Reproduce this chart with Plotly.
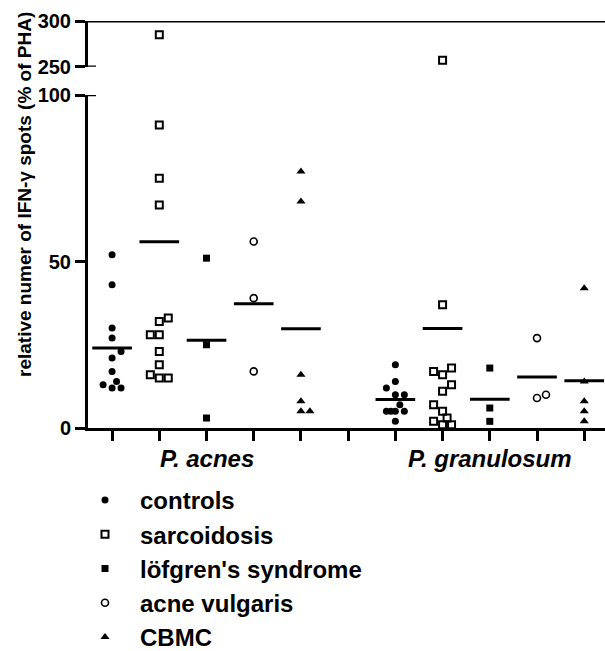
import numpy as np
import plotly.graph_objects as go

# ---------------- data ----------------
groups = ["controls", "sarcoidosis", "löfgren's syndrome", "acne vulgaris", "CBMC"]
organisms = ["P. acnes", "P. granulosum"]

# relative number of IFN-γ spots (% of PHA)
controls_acnes = [52, 43, 30, 27, 23, 21, 17, 14, 13, 12, 12]
controls_gran = [19, 14, 12, 10, 10, 7, 5, 5, 5, 5, 2]
sarcoidosis_acnes = [285, 91, 75, 67, 33, 32, 28, 28, 23, 19, 16, 15, 15]
sarcoidosis_gran = [257, 37, 18, 17, 16, 13, 11, 7, 5, 3, 2, 1, 1]
lofgren_acnes = [51, 25, 3]
lofgren_gran = [18, 6, 2]
acne_acnes = [56, 39, 17]
acne_gran = [27, 9, 10]
cbmc_acnes = [77, 68, 16, 8, 5, 5]
cbmc_gran = [42, 14, 8, 5, 2]

# y-axis tick labels (broken axis: 0-100 and 250-300)
low_ticks = [0, 50, 100]
high_ticks = [250, 300]

# horizontal jitter slots (scatter-dot plot dodge)
controls_acnes_jit = [0, 0, 0, 0, 2, 0, 0, 1, -2, 0, 2]
controls_gran_jit = [0, 0, -2, 0, 2, 1, -2, -1, 0, 2, 0]
sarcoidosis_acnes_jit = [0, 0, 0, 0, 2, 0, -2, 0, 0, 0, -2, 0, 2]
sarcoidosis_gran_jit = [0, 0, 2, -2, 0, 2, 0, -2, 0, 1, -2, 0, 2]
lofgren_acnes_jit = [0, 0, 0]
lofgren_gran_jit = [0, 0, 0]
acne_acnes_jit = [0, 0, 0]
acne_gran_jit = [0, 0, 2]
cbmc_acnes_jit = [0, 0, 0, 0, 0, 2]
cbmc_gran_jit = [0, 0, 0, 0, 0]

series_acnes = [controls_acnes, sarcoidosis_acnes, lofgren_acnes, acne_acnes, cbmc_acnes]
series_gran = [controls_gran, sarcoidosis_gran, lofgren_gran, acne_gran, cbmc_gran]
jit_acnes = [controls_acnes_jit, sarcoidosis_acnes_jit, lofgren_acnes_jit, acne_acnes_jit, cbmc_acnes_jit]
jit_gran = [controls_gran_jit, sarcoidosis_gran_jit, lofgren_gran_jit, acne_gran_jit, cbmc_gran_jit]

# ---------------- styling ----------------
FONT = "Liberation Sans, Arial, sans-serif"
STEP = 0.095          # one jitter slot in category units
HALF = 0.42           # half width of the mean bar
BREAK_LOW = 100

marker_styles = [
    dict(symbol="circle", size=7, color="black"),
    dict(symbol="square-open", size=7, color="black", line=dict(width=2, color="black")),
    dict(symbol="square", size=7, color="black"),
    dict(symbol="circle-open", size=7, color="black", line=dict(width=1.6, color="black")),
    dict(symbol="triangle-up", size=8, color="black"),
]

n = len(groups)
pos_acnes = [i + 1 for i in range(n)]
pos_gran = [i + 2 + n for i in range(n)]

fig = go.Figure()

for i, g in enumerate(groups):
    xs = [pos_acnes[i] + j * STEP for j in jit_acnes[i]] + [pos_gran[i] + j * STEP for j in jit_gran[i]]
    ys = list(series_acnes[i]) + list(series_gran[i])
    lo = [(x, y) for x, y in zip(xs, ys) if y <= BREAK_LOW]
    hi = [(x, y) for x, y in zip(xs, ys) if y > BREAK_LOW]
    fig.add_trace(go.Scatter(
        x=[p[0] for p in lo], y=[p[1] for p in lo], mode="markers",
        marker=marker_styles[i], name="<b>" + g + "</b>", legendgroup=g,
        xaxis="x", yaxis="y", cliponaxis=False))
    fig.add_trace(go.Scatter(
        x=[p[0] for p in hi], y=[p[1] for p in hi], mode="markers",
        marker=marker_styles[i], name=g, legendgroup=g, showlegend=False,
        xaxis="x", yaxis="y2", cliponaxis=False))

# mean bars
for i, g in enumerate(groups):
    for p, vals in ((pos_acnes[i], series_acnes[i]), (pos_gran[i], series_gran[i])):
        m = float(np.mean(vals))
        fig.add_trace(go.Scatter(
            x=[p - HALF, p + HALF], y=[m, m], mode="lines",
            line=dict(color="black", width=3), showlegend=False,
            hoverinfo="skip", xaxis="x", yaxis="y", cliponaxis=False))

W, H = 605, 651
ML, MR, MT, MB = 88, 0, 21, 223
PW, PH = W - ML - MR, H - MT - MB
y0_px = H - MB  # pixel of value 0


def py(px):
    return (y0_px - px) / PH


def pxx(px):
    return (px - ML) / PW


axis_common = dict(showline=True, linewidth=3, linecolor="black", ticks="outside",
                   ticklen=10, tickwidth=2.5, tickcolor="black", showgrid=False,
                   zeroline=False, fixedrange=True)
tick_font = dict(family=FONT, size=20, color="black", weight="bold")

fig.update_layout(
    width=W, height=H,
    margin=dict(l=ML, r=MR, t=MT, b=MB, autoexpand=False),
    paper_bgcolor="white", plot_bgcolor="white",
    showlegend=True,
    xaxis=dict(domain=[0, 1], range=[0.49, 11.44], tickvals=list(range(1, 2 * n + 2)),
               showticklabels=False, anchor="y", **axis_common),
    yaxis=dict(domain=[0, py(95)], range=[0, 100], tickvals=low_ticks,
               ticktext=["<b>%d</b>" % t for t in low_ticks], anchor="x",
               tickfont=tick_font, **axis_common),
    yaxis2=dict(domain=[py(66.7), 1], range=[250, 300], tickvals=high_ticks,
                ticktext=["<b>%d</b>" % t for t in high_ticks], anchor="x",
                tickfont=tick_font, **axis_common),
    legend=dict(x=pxx(70), y=py(478), xanchor="left", yanchor="top",
                font=dict(family=FONT, size=24, color="black", weight="bold"),
                itemwidth=60, tracegroupgap=0, bgcolor="rgba(0,0,0,0)", traceorder="normal"),
    shapes=[
        dict(type="line", xref="paper", x0=0, x1=1, yref="y2", y0=300, y1=300,
             line=dict(color="black", width=3)),
        dict(type="line", xref="paper", x0=0, x1=pxx(96), yref="y", y0=100, y1=100,
             line=dict(color="black", width=2.5)),
        dict(type="line", xref="paper", x0=0, x1=pxx(96), yref="y2", y0=250, y1=250,
             line=dict(color="black", width=2.5)),
    ],
    annotations=[
        dict(text="<b>relative numer of IFN-γ spots (% of PHA)</b>", textangle=-90,
             xref="paper", yref="paper", x=pxx(24), y=py(195), showarrow=False,
             xanchor="center", yanchor="middle",
             font=dict(family=FONT, size=19, color="black", weight="bold")),
    ] + [
        dict(text="<b><i>" + org + "</i></b>", xref="x", yref="paper", x=float(np.mean(pos)), y=py(458),
             showarrow=False, xanchor="center", yanchor="middle",
             font=dict(family=FONT, size=24, color="black", weight="bold", style="italic"))
        for org, pos in zip(organisms, (pos_acnes, pos_gran))
    ],
)

fig.write_html("out.html")
